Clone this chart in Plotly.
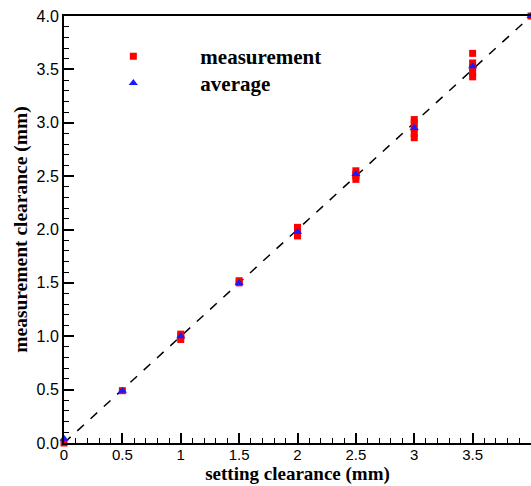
import plotly.graph_objects as go

# measurement data (setting clearance, measured clearance)
meas_x = [0, 0.5, 1, 1, 1, 1.5, 1.5, 2, 2, 2, 2, 2.5, 2.5, 2.5, 2.5,
          3, 3, 3, 3, 3, 3.5, 3.5, 3.5, 3.5, 3.5, 4]
meas_y = [0.0, 0.49, 0.97, 1.0, 1.02, 1.5, 1.52, 1.94, 1.97, 2.0, 2.02,
          2.47, 2.5, 2.52, 2.55, 2.86, 2.9, 2.95, 3.0, 3.03, 3.43, 3.47, 3.52, 3.56, 3.65, 4.0]
avg_x = [0, 0.5, 1, 1.5, 2, 2.5, 3, 3.5, 4]
avg_y = [0.04, 0.49, 1.0, 1.5, 1.98, 2.52, 2.95, 3.53, 4.0]
ref_x = [0, 4]
ref_y = [0, 4]

fig = go.Figure()
fig.add_trace(go.Scatter(x=ref_x, y=ref_y, mode="lines",
                         line=dict(color="black", width=1.5, dash="dash"),
                         showlegend=False, hoverinfo="skip"))
fig.add_trace(go.Scatter(x=meas_x, y=meas_y, mode="markers", name="<b>measurement</b>",
                         legend="legend",
                         marker=dict(symbol="square", color="#ff0000", size=7)))
fig.add_trace(go.Scatter(x=avg_x, y=avg_y, mode="markers", name="<b>average</b>",
                         legend="legend2",
                         marker=dict(symbol="triangle-up", color="#1a1aff", size=8)))

leg_font = dict(family="Liberation Serif, Times New Roman", size=21, color="black")
fig.update_layout(
    width=531, height=486,
    margin=dict(l=64, r=0, t=16, b=43),
    plot_bgcolor="white", paper_bgcolor="white",
    font=dict(family="Liberation Sans, Arial", size=16, color="black"),
    legend=dict(x=0.005, y=0.953, xanchor="left", yanchor="top",
                bgcolor="rgba(0,0,0,0)", itemwidth=124, font=leg_font),
    legend2=dict(x=0.005, y=0.890, xanchor="left", yanchor="top",
                 bgcolor="rgba(0,0,0,0)", itemwidth=124, font=leg_font),
    xaxis=dict(range=[0, 4.0], tickvals=[0, 0.5, 1, 1.5, 2, 2.5, 3, 3.5, 4],
               ticktext=["0", "0.5", "1", "1.5", "2", "2.5", "3", "3.5", "4"],
               ticks="inside", ticklen=10, tickwidth=1.5, tickcolor="black",
               tickfont=dict(size=15), ticklabelstandoff=-3,
               minor=dict(dtick=0.1, ticks="inside", ticklen=5, tickcolor="black", tickwidth=1),
               showline=True, linecolor="black", linewidth=2, mirror=True,
               showgrid=False, zeroline=False,
               title=dict(text="<b>setting clearance (mm)</b>", standoff=4,
                          font=dict(family="Liberation Serif, Times New Roman", size=19))),
    yaxis=dict(range=[0, 4.0], tickvals=[0, 0.5, 1, 1.5, 2, 2.5, 3, 3.5, 4],
               tickformat=".1f",
               ticks="inside", ticklen=10, tickwidth=1.5, tickcolor="black",
               minor=dict(dtick=0.1, ticks="inside", ticklen=5, tickcolor="black", tickwidth=1),
               showline=True, linecolor="black", linewidth=2,
               showgrid=False, zeroline=False,
               title=dict(text="<b>measurement clearance (mm)</b>", standoff=4,
                          font=dict(family="Liberation Serif, Times New Roman", size=19.5))),
)
fig.for_each_trace(lambda t: t.update(cliponaxis=False))
fig.write_html("out.html")
